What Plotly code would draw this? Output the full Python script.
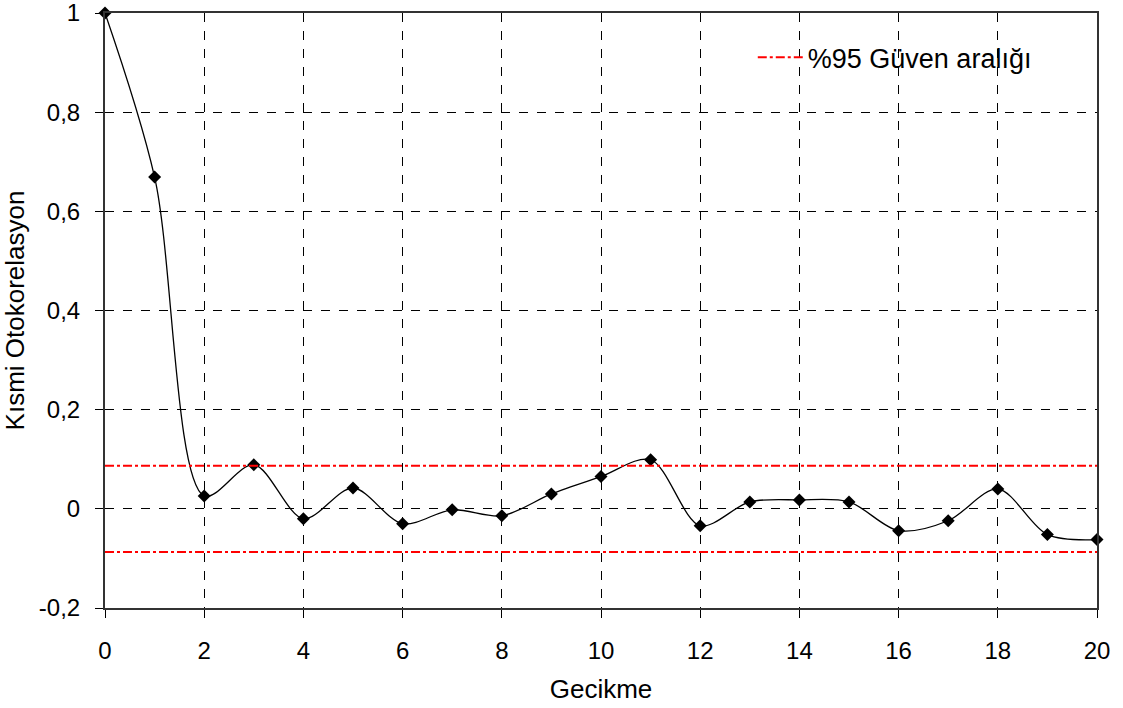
import plotly.graph_objects as go

lags = list(range(21))
pacf = [1.0, 0.669, 0.026, 0.089, -0.020, 0.042, -0.030, -0.002, -0.014, 0.030,
        0.065, 0.099, -0.034, 0.014, 0.018, 0.014, -0.044, -0.024, 0.040, -0.052, -0.062]
conf_upper = 0.087
conf_lower = -0.087

y_tickvals = [-0.2, 0, 0.2, 0.4, 0.6, 0.8, 1]
y_ticktext = ["-0,2", "0", "0,2", "0,4", "0,6", "0,8", "1"]
x_tickvals = list(range(0, 21, 2))

font = "Liberation Sans, Arial, sans-serif"

fig = go.Figure()
fig.add_trace(go.Scatter(
    x=lags, y=pacf, mode="lines+markers",
    line=dict(color="black", width=1.3, shape="spline", smoothing=0.9),
    marker=dict(symbol="diamond", size=10, color="black"),
    showlegend=False, cliponaxis=False,
))
fig.add_trace(go.Scatter(
    x=[lags[0], lags[-1]], y=[conf_upper, conf_upper], mode="lines",
    line=dict(color="red", width=2, dash="dashdot"),
    name="%95 Güven aralığı",
))
fig.add_trace(go.Scatter(
    x=[lags[0], lags[-1]], y=[conf_lower, conf_lower], mode="lines",
    line=dict(color="red", width=2, dash="dashdot"),
    showlegend=False,
))

fig.update_layout(
    width=1123, height=708,
    margin=dict(l=105, r=26, t=13, b=100),
    paper_bgcolor="white", plot_bgcolor="white",
    font=dict(family=font, size=24, color="black"),
    legend=dict(x=0.653, y=0.925, xanchor="left", yanchor="middle",
                itemwidth=45,
                bgcolor="rgba(0,0,0,0)", font=dict(size=27)),
)
fig.update_xaxes(
    range=[0, 20], tickvals=x_tickvals, automargin=False,
    showgrid=True, gridcolor="black", griddash="dash", gridwidth=1,
    showline=True, linecolor="#333", linewidth=2, mirror=True,
    ticks="outside", ticklen=8, tickcolor="black",
    ticklabelstandoff=12, ticklabeloverflow="allow",
    zeroline=False,
    title=dict(text="Gecikme", font=dict(size=26), standoff=17),
)
fig.update_yaxes(
    range=[-0.2, 1.0], tickvals=y_tickvals, ticktext=y_ticktext, automargin=False,
    showgrid=True, gridcolor="black", griddash="dash", gridwidth=1,
    showline=True, linecolor="#333", linewidth=2, mirror=True,
    ticks="outside", ticklen=8, tickcolor="black",
    ticklabelstandoff=10, ticklabeloverflow="allow",
    zeroline=False,
    title=dict(text="Kısmi Otokorelasyon", font=dict(size=26), standoff=12),
)

fig.write_html("out.html")
